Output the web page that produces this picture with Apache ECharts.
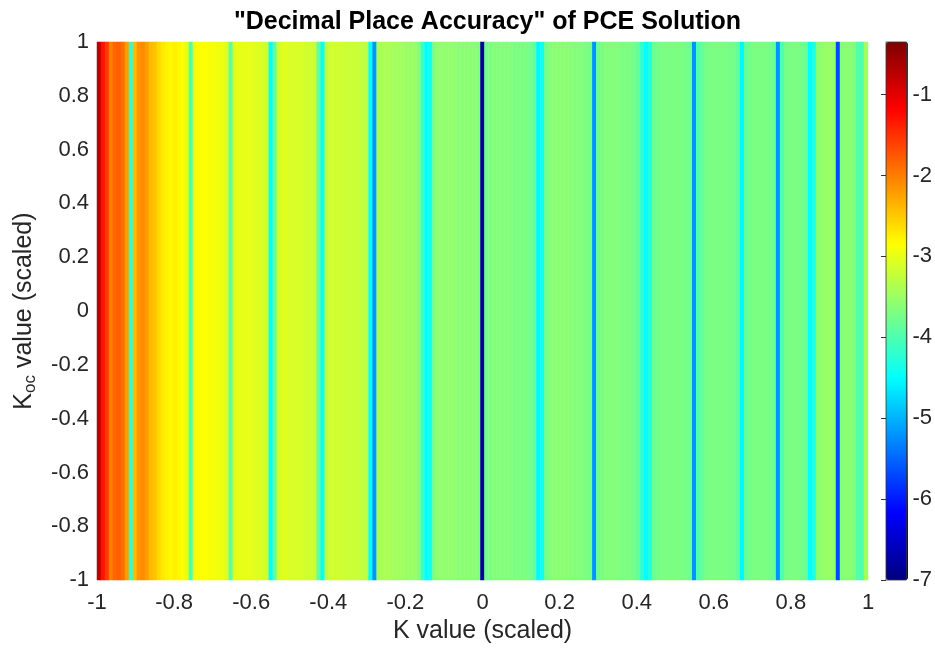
<!DOCTYPE html>
<html>
<head>
<meta charset="utf-8">
<script src="https://cdn.jsdelivr.net/npm/echarts@6/dist/echarts.min.js"></script>
<style>
  html, body { margin: 0; padding: 0; background: #fff; }
  #chart { width: 935px; height: 649px; }
</style>
</head>
<body>
<div id="chart"></div>
<script>
// decimal place accuracy per K column (value is constant along Koc), read left -> right
var accuracy = [
  -0.75, -1.3, -1.55, -2.0, -1.85, -1.8, -1.9, -2.2, -4.2, -2.4,
  -2.15, -2.1, -2.2, -2.4, -2.45, -2.6, -2.7, -2.75, -2.8, -2.75,
  -2.8, -2.85, -3.0, -4.0, -2.95, -2.85, -2.85, -2.85, -2.9, -2.9,
  -2.95, -2.95, -3.1, -3.9, -3.05, -3.0, -3.0, -3.0, -3.0, -3.05,
  -3.05, -3.1, -3.15, -4.5, -3.9, -3.15, -3.05, -3.05, -3.1, -3.1,
  -3.1, -3.1, -3.15, -3.15, -3.2, -3.9, -4.45, -3.3, -3.15, -3.15,
  -3.15, -3.15, -3.2, -3.2, -3.2, -3.2, -3.25, -3.3, -4.5, -5.2,
  -3.45, -3.4, -3.4, -3.4, -3.45, -3.45, -3.45, -3.5, -3.5, -3.5,
  -3.6, -4.1, -4.5, -4.4, -3.65, -3.55, -3.55, -3.55, -3.55, -3.55,
  -3.6, -3.6, -3.6, -3.6, -3.6, -3.65, -6.8, -3.75, -3.7, -3.65,
  -3.65, -3.65, -3.65, -3.65, -3.7, -3.7, -3.7, -3.7, -3.75, -3.85,
  -4.55, -4.4, -3.75, -3.65, -3.6, -3.6, -3.6, -3.6, -3.6, -3.65,
  -3.65, -3.65, -3.7, -3.75, -5.2, -3.8, -3.7, -3.65, -3.65, -3.65,
  -3.65, -3.7, -3.7, -3.7, -3.75, -3.85, -4.2, -4.5, -4.3, -3.8,
  -3.75, -3.7, -3.7, -3.7, -3.7, -3.7, -3.7, -3.75, -3.8, -5.2,
  -4.0, -3.85, -3.75, -3.7, -3.7, -3.7, -3.7, -3.7, -3.75, -3.75,
  -3.85, -4.55, -3.85, -3.75, -3.7, -3.7, -3.7, -3.7, -3.75, -3.8,
  -5.2, -4.0, -3.75, -3.7, -3.7, -3.7, -3.75, -3.8, -4.5, -4.3,
  -3.6, -3.55, -3.5, -3.5, -3.55, -5.7, -3.65, -3.6, -3.6, -3.65,
  -3.95, -4.0, -3.45
];
var xRange = [-1, 1];
var yRange = [-1, 1];
var colorRange = [-7, -0.35];
// MATLAB jet
var jet = ['#00007f', '#0000ff', '#007fff', '#00ffff', '#7fff7f', '#ffff00', '#ff7f00', '#ff0000', '#7f0000'];

var cols = [];
var cells = [];
accuracy.forEach(function (v, i) {
  cols.push(i);
  cells.push([i, 0, v]);
});

var font = 'Liberation Sans, Arial, Helvetica, sans-serif';
var txt = '#262626';

var chart = echarts.init(document.getElementById('chart'));
chart.setOption({
  animation: false,
  title: {
    text: '"Decimal Place Accuracy" of PCE Solution',
    left: 482.5,
    textAlign: 'center',
    top: 5,
    textStyle: { fontFamily: font, fontSize: 25, fontWeight: 'bold', color: '#000' }
  },
  grid: [
    { left: 97, top: 42, width: 771, height: 539 },
    { left: 886, top: 42, width: 22, height: 538, z: 10, show: true,
      backgroundColor: 'transparent', borderColor: '#333', borderWidth: 0.8 }
  ],
  xAxis: [
    { type: 'category', gridIndex: 0, data: cols, show: false, position: 'top' },
    {
      type: 'value', gridIndex: 0, position: 'bottom',
      min: xRange[0], max: xRange[1], interval: 0.2,
      axisLine: { show: false }, axisTick: { show: false }, splitLine: { show: false },
      axisLabel: { color: txt, fontFamily: font, fontSize: 22, margin: 12 },
      name: 'K value (scaled)', nameLocation: 'middle', nameGap: 36,
      nameTextStyle: { color: txt, fontFamily: font, fontSize: 25 }
    },
    { type: 'value', gridIndex: 1, show: false, min: 0, max: 1 }
  ],
  yAxis: [
    { type: 'category', gridIndex: 0, data: [0], show: false, position: 'right' },
    {
      type: 'value', gridIndex: 0, position: 'left',
      min: yRange[0], max: yRange[1], interval: 0.2,
      axisLine: { show: false }, axisTick: { show: false }, splitLine: { show: false },
      axisLabel: { color: txt, fontFamily: font, fontSize: 22, margin: 8 },
      name: '{a|K}{b|oc}{a| value (scaled)}', nameLocation: 'middle', nameGap: 58, nameRotate: 90,
      nameTextStyle: {
        color: txt, fontFamily: font,
        rich: {
          a: { fontSize: 25, fontFamily: font, color: txt, lineHeight: 30, verticalAlign: 'middle' },
          b: { fontSize: 17, fontFamily: font, color: txt, lineHeight: 17, verticalAlign: 'bottom' }
        }
      }
    },
    {
      type: 'value', gridIndex: 1, position: 'right', z: 10,
      min: colorRange[0], max: colorRange[1], interval: 1,
      axisLine: { show: false }, splitLine: { show: false },
      axisTick: { show: true, inside: true, length: 5, lineStyle: { color: '#333' } },
      axisLabel: { color: txt, fontFamily: font, fontSize: 22, margin: 6, showMaxLabel: false }
    }
  ],
  visualMap: {
    type: 'continuous',
    seriesIndex: 0,
    dimension: 2,
    min: colorRange[0],
    max: colorRange[1],
    calculable: false,
    left: 886,
    top: 42,
    padding: 0,
    itemWidth: 22,
    itemHeight: 538,
    text: null,
    showLabel: false,
    inRange: { color: jet }
  },
  series: [{
    type: 'heatmap',
    xAxisIndex: 0,
    yAxisIndex: 0,
    data: cells,
    emphasis: { disabled: true }
  }]
});
</script>
</body>
</html>
